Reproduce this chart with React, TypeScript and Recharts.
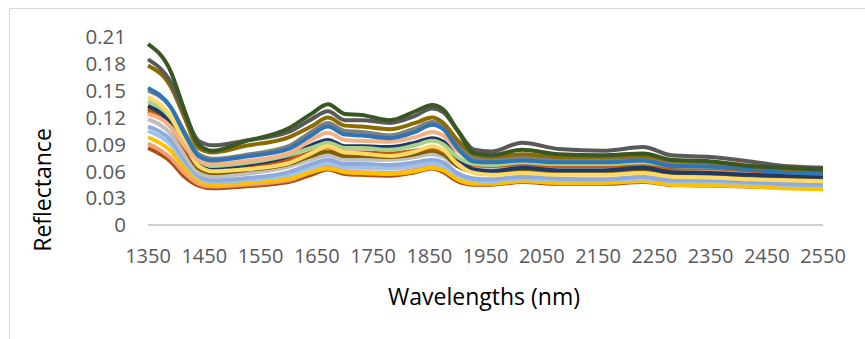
import React from "react";
import { LineChart, Line, XAxis, YAxis } from "recharts";

const wavelengths = [1350, 1390, 1415, 1440, 1465, 1520, 1600, 1640, 1670, 1700, 1730, 1780, 1825, 1855, 1875, 1900, 1930, 1960, 2015, 2080, 2160, 2230, 2280, 2350, 2420, 2480, 2550];

const xTicks = [1350, 1450, 1550, 1650, 1750, 1850, 1950, 2050, 2150, 2250, 2350, 2450, 2550];
const yTicks = [0, 0.03, 0.06, 0.09, 0.12, 0.15, 0.18, 0.21];

const sampleBrown = [0.086, 0.071, 0.054, 0.044, 0.041, 0.043, 0.048, 0.056, 0.062, 0.057, 0.056, 0.055, 0.059, 0.063, 0.059, 0.049, 0.045, 0.045, 0.048, 0.046, 0.046, 0.048, 0.045, 0.044, 0.043, 0.042, 0.041];
const sampleOrange = [0.091, 0.075, 0.058, 0.046, 0.043, 0.045, 0.050, 0.059, 0.065, 0.060, 0.059, 0.058, 0.062, 0.066, 0.062, 0.051, 0.047, 0.047, 0.050, 0.048, 0.048, 0.050, 0.046, 0.046, 0.044, 0.043, 0.042];
const sampleGold = [0.098, 0.083, 0.064, 0.050, 0.045, 0.047, 0.052, 0.059, 0.063, 0.059, 0.058, 0.057, 0.060, 0.064, 0.061, 0.051, 0.046, 0.046, 0.049, 0.047, 0.047, 0.049, 0.045, 0.044, 0.043, 0.041, 0.040];
const sampleSky = [0.105, 0.090, 0.070, 0.053, 0.048, 0.050, 0.056, 0.064, 0.069, 0.064, 0.064, 0.063, 0.066, 0.069, 0.066, 0.056, 0.050, 0.049, 0.052, 0.050, 0.050, 0.052, 0.049, 0.048, 0.047, 0.045, 0.044];
const samplePeriwinkle = [0.110, 0.095, 0.073, 0.055, 0.050, 0.052, 0.059, 0.068, 0.073, 0.068, 0.068, 0.067, 0.070, 0.073, 0.070, 0.058, 0.052, 0.051, 0.054, 0.052, 0.051, 0.054, 0.050, 0.050, 0.048, 0.046, 0.045];
const sampleSilver = [0.118, 0.102, 0.078, 0.058, 0.054, 0.057, 0.065, 0.073, 0.078, 0.073, 0.073, 0.073, 0.076, 0.079, 0.076, 0.066, 0.064, 0.063, 0.065, 0.063, 0.063, 0.064, 0.060, 0.059, 0.057, 0.056, 0.055];
const sampleDarkOlive = [0.130, 0.112, 0.086, 0.063, 0.058, 0.061, 0.068, 0.077, 0.082, 0.077, 0.077, 0.076, 0.079, 0.083, 0.079, 0.066, 0.060, 0.059, 0.062, 0.060, 0.060, 0.062, 0.058, 0.057, 0.055, 0.054, 0.053];
const sampleRust = [0.127, 0.110, 0.086, 0.067, 0.062, 0.065, 0.073, 0.081, 0.087, 0.081, 0.081, 0.080, 0.083, 0.086, 0.083, 0.073, 0.067, 0.066, 0.068, 0.066, 0.066, 0.067, 0.063, 0.063, 0.061, 0.059, 0.058];
const sampleNavy = [0.133, 0.115, 0.090, 0.068, 0.063, 0.067, 0.077, 0.089, 0.095, 0.088, 0.088, 0.087, 0.092, 0.097, 0.093, 0.075, 0.062, 0.060, 0.064, 0.061, 0.061, 0.064, 0.059, 0.058, 0.056, 0.055, 0.054];
const sampleLightGreen = [0.138, 0.120, 0.094, 0.072, 0.066, 0.069, 0.078, 0.086, 0.092, 0.086, 0.086, 0.084, 0.089, 0.094, 0.090, 0.076, 0.068, 0.067, 0.070, 0.068, 0.068, 0.070, 0.066, 0.065, 0.063, 0.062, 0.061];
const sampleYellow = [0.143, 0.122, 0.092, 0.066, 0.060, 0.062, 0.069, 0.080, 0.088, 0.081, 0.080, 0.077, 0.082, 0.088, 0.084, 0.068, 0.058, 0.056, 0.058, 0.056, 0.056, 0.058, 0.054, 0.053, 0.051, 0.050, 0.049];
const samplePeach = [0.124, 0.110, 0.088, 0.072, 0.068, 0.071, 0.080, 0.095, 0.103, 0.095, 0.094, 0.093, 0.098, 0.104, 0.100, 0.083, 0.074, 0.073, 0.076, 0.074, 0.074, 0.076, 0.071, 0.070, 0.068, 0.066, 0.064];
const sampleBlue = [0.153, 0.132, 0.102, 0.077, 0.072, 0.076, 0.085, 0.100, 0.110, 0.101, 0.100, 0.097, 0.104, 0.112, 0.107, 0.086, 0.071, 0.070, 0.072, 0.070, 0.070, 0.072, 0.066, 0.065, 0.062, 0.059, 0.057];
const sampleMidGray = [0.150, 0.132, 0.104, 0.079, 0.074, 0.078, 0.088, 0.104, 0.114, 0.105, 0.104, 0.100, 0.108, 0.115, 0.110, 0.090, 0.075, 0.072, 0.076, 0.073, 0.072, 0.074, 0.069, 0.067, 0.064, 0.061, 0.059];
const sampleOlive = [0.178, 0.155, 0.120, 0.086, 0.081, 0.088, 0.098, 0.110, 0.120, 0.111, 0.110, 0.107, 0.114, 0.120, 0.114, 0.095, 0.079, 0.076, 0.079, 0.076, 0.076, 0.077, 0.072, 0.070, 0.066, 0.063, 0.061];
const sampleGray = [0.185, 0.160, 0.125, 0.094, 0.089, 0.094, 0.104, 0.118, 0.127, 0.117, 0.117, 0.114, 0.122, 0.130, 0.126, 0.106, 0.084, 0.082, 0.092, 0.085, 0.083, 0.087, 0.078, 0.076, 0.071, 0.066, 0.064];
const sampleGreen = [0.202, 0.172, 0.128, 0.090, 0.083, 0.093, 0.108, 0.124, 0.135, 0.124, 0.123, 0.117, 0.127, 0.134, 0.129, 0.106, 0.080, 0.078, 0.084, 0.079, 0.078, 0.080, 0.073, 0.071, 0.066, 0.064, 0.062];

const seriesList = [
  { key: "brown", values: sampleBrown, color: "#A94F10" },
  { key: "orange", values: sampleOrange, color: "#F4A070" },
  { key: "gold", values: sampleGold, color: "#FFC000" },
  { key: "sky", values: sampleSky, color: "#9DC3E6" },
  { key: "periwinkle", values: samplePeriwinkle, color: "#8FAADC" },
  { key: "silver", values: sampleSilver, color: "#BFBFBF" },
  { key: "darkolive", values: sampleDarkOlive, color: "#7F6000" },
  { key: "rust", values: sampleRust, color: "#C55A11" },
  { key: "navy", values: sampleNavy, color: "#203864" },
  { key: "lightgreen", values: sampleLightGreen, color: "#A9D18E" },
  { key: "yellow", values: sampleYellow, color: "#FFD966" },
  { key: "peach", values: samplePeach, color: "#F4B183" },
  { key: "midgray", values: sampleMidGray, color: "#7F7F7F" },
  { key: "blue", values: sampleBlue, color: "#2E75B6" },
  { key: "olive", values: sampleOlive, color: "#8B6B00" },
  { key: "gray", values: sampleGray, color: "#595959" },
  { key: "green", values: sampleGreen, color: "#385723" },
];

const data = wavelengths.map((w, i) => {
  const row: Record<string, number> = { w };
  seriesList.forEach((s) => {
    row[s.key] = s.values[i];
  });
  return row;
});

const FONT = "'Open Sans', sans-serif";

export default function App() {
  return (
    <div style={{ position: "absolute", left: 0, top: 0, width: 865, height: 339, overflow: "hidden", background: "#fff" }}>
      <div style={{ position: "absolute", left: 9, top: 8, width: 900, height: 400, border: "1px solid #D9D9D9", boxSizing: "border-box" }} />
      <div style={{ position: "absolute", left: 0, top: 0 }}>
        <LineChart width={865} height={339} data={data} margin={{ top: 37, right: 42, bottom: 84, left: 48 }}>
          <XAxis
            dataKey="w"
            type="number"
            domain={[1350, 2550]}
            ticks={xTicks}
            interval={0}
            height={30}
            tickLine={false}
            tickSize={0}
            tickMargin={24}
            axisLine={{ stroke: "#D0D0D0", strokeWidth: 2 }}
            tick={{ fontFamily: FONT, fontSize: 20, fill: "#595959" }}
          />
          <YAxis
            type="number"
            domain={[0, 0.21]}
            ticks={yTicks}
            interval={0}
            width={100}
            axisLine={false}
            tickLine={false}
            tickSize={0}
            tickMargin={22}
            tick={{ fontFamily: FONT, fontSize: 20.5, fill: "#595959" }}
          />
          {seriesList.map((s) => (
            <Line
              key={s.key}
              dataKey={s.key}
              type="monotone"
              stroke={s.color}
              strokeWidth={4}
              dot={false}
              activeDot={false}
              isAnimationActive={false}
            />
          ))}
        </LineChart>
      </div>
      <svg width={865} height={339} style={{ position: "absolute", left: 0, top: 0, pointerEvents: "none" }}>
        <text x={484} y={305} textAnchor="middle" fontFamily={FONT} fontSize={23} fill="#000">
          Wavelengths (nm)
        </text>
        <text x={0} y={0} transform="translate(51 190) rotate(-90)" textAnchor="middle" fontFamily={FONT} fontSize={23} fill="#000">
          Reflectance
        </text>
      </svg>
    </div>
  );
}
